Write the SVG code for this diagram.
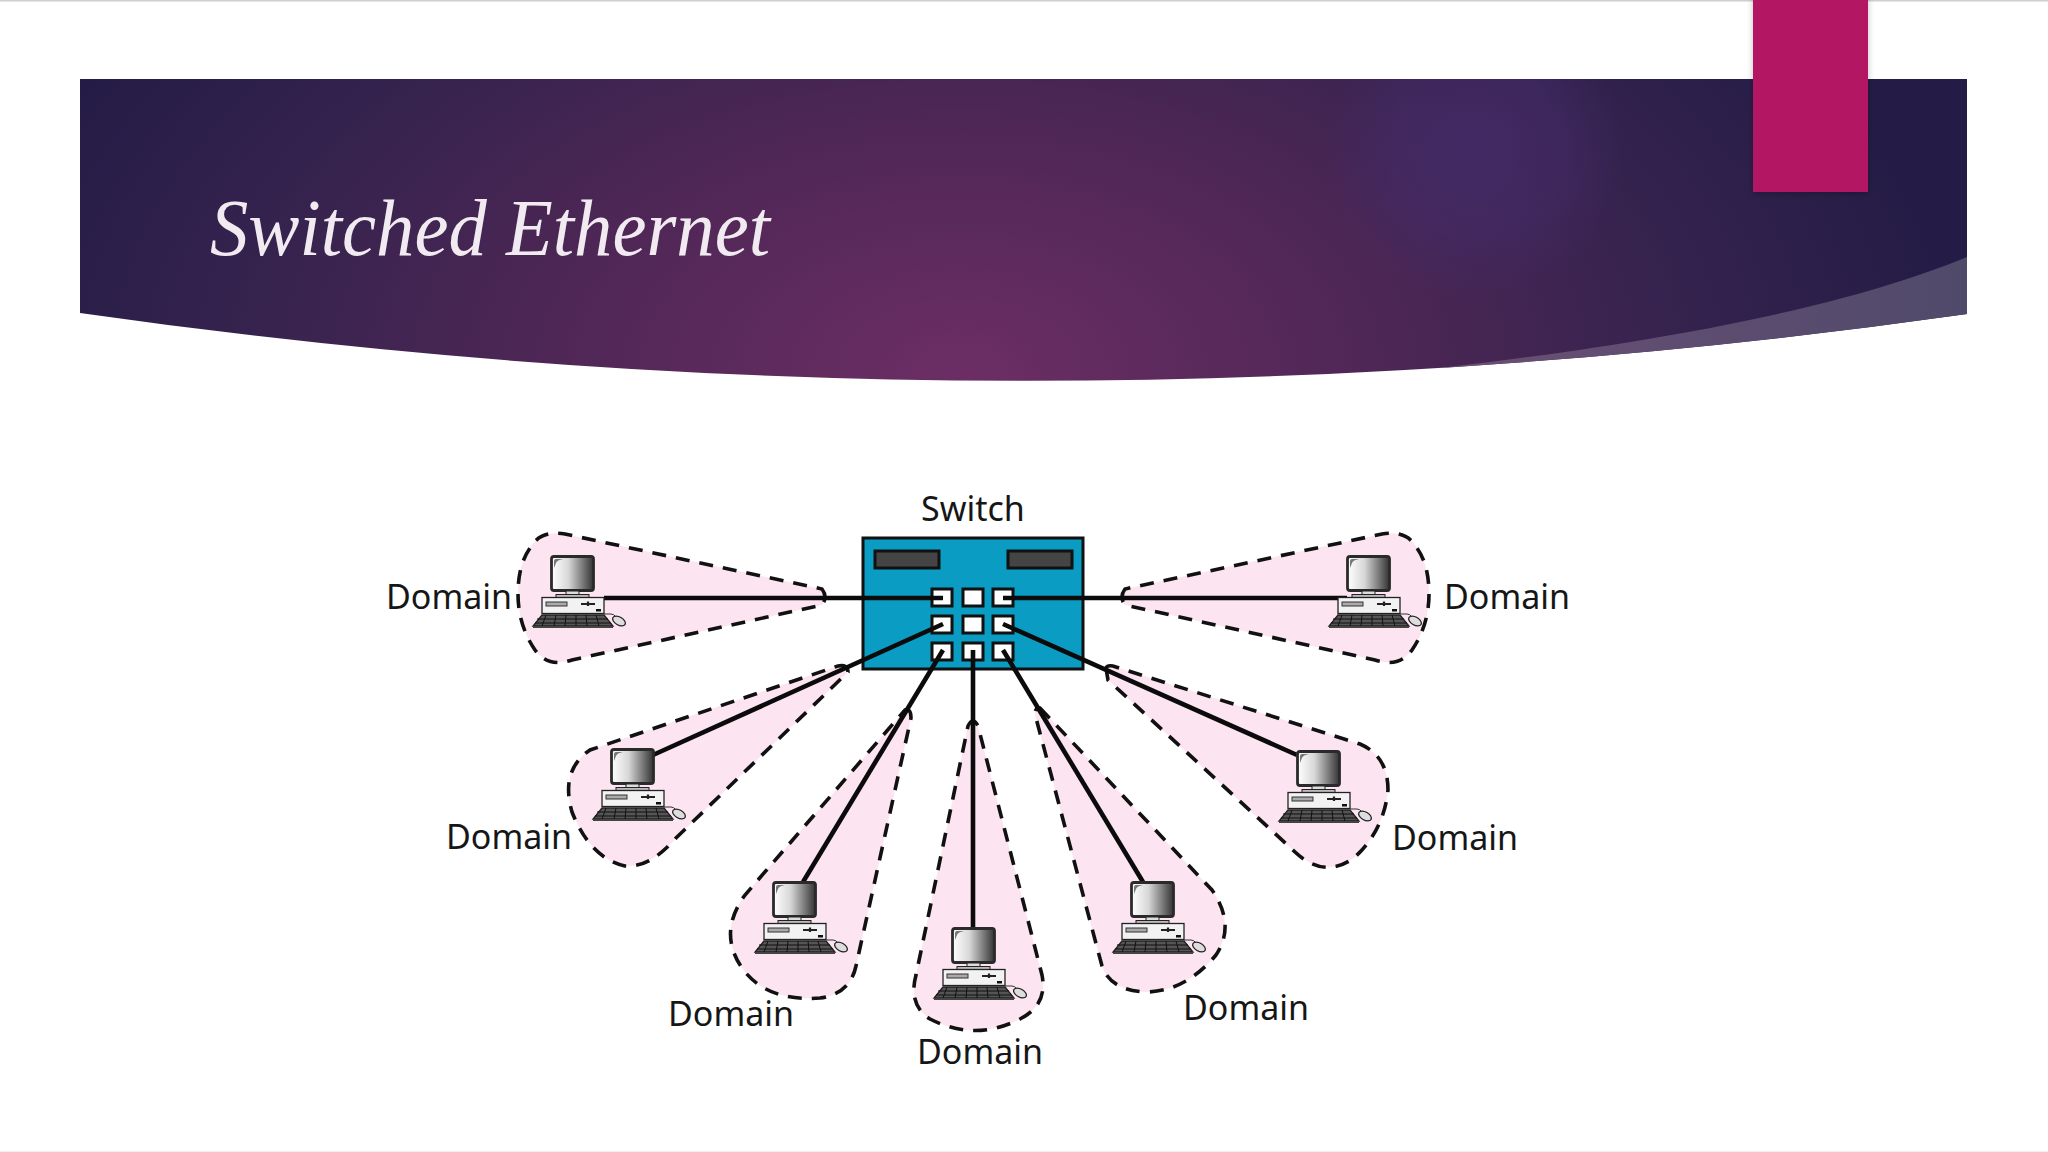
<svg xmlns="http://www.w3.org/2000/svg" xmlns:xlink="http://www.w3.org/1999/xlink" width="2048" height="1152" viewBox="0 0 2048 1152">
<style>
.lbl{font-family:"Noto Sans","Open Sans",sans-serif;font-size:34px;fill:#161616}
.dom{fill:#fce4f1;stroke:#111;stroke-width:3.600;stroke-dasharray:14 10}
.wire{stroke:#0b0b0b;stroke-width:4.600;fill:none;stroke-linecap:butt}
.port{fill:#fff;stroke:#111;stroke-width:3}
.panel{fill:#444;stroke:#111;stroke-width:3}
</style>
<defs>
<radialGradient id="bandG" gradientUnits="userSpaceOnUse" cx="960" cy="370" r="1000" gradientTransform="translate(960 370) scale(1 .6) translate(-960 -370)">
<stop offset="0" stop-color="#6c2e64"/><stop offset=".4" stop-color="#4f2756"/><stop offset=".75" stop-color="#33224d"/><stop offset="1" stop-color="#241c46"/>
</radialGradient>
<radialGradient id="glow" gradientUnits="userSpaceOnUse" cx="1475" cy="150" r="150">
<stop offset="0" stop-color="#432a66" stop-opacity=".9"/><stop offset=".6" stop-color="#432a66" stop-opacity=".55"/><stop offset="1" stop-color="#432a66" stop-opacity="0"/>
</radialGradient>
<linearGradient id="hi" x1="0" x2="1" y1="0" y2="0"><stop offset="0" stop-color="#6c5076"/><stop offset="1" stop-color="#504a6a"/></linearGradient>
<linearGradient id="scr" x1="0" x2="1" y1="0" y2="0"><stop offset="0" stop-color="#fff"/><stop offset=".4" stop-color="#d8d8d8"/><stop offset="1" stop-color="#333"/></linearGradient>
<clipPath id="bandC"><path d="M80 79H1967V314Q1023 448 80 313Z"/></clipPath>
<filter id="sh" x="-20%" y="-20%" width="140%" height="140%"><feDropShadow dx="0" dy="2" stdDeviation="3" flood-color="#000" flood-opacity=".25"/></filter>
<g id="pc">
<rect x="0.500" y="0.500" width="42" height="34" rx="2.500" fill="url(#scr)" stroke="#2a2a2a" stroke-width="2.800"/>
<path d="M3 12V5Q3 3 5 3H12Q6 4 5 7Z" fill="#777"/>
<rect x="15" y="35" width="13" height="4" fill="#ddd" stroke="#222" stroke-width="1"/>
<rect x="5" y="38.500" width="33" height="3" fill="#bbb" stroke="#222" stroke-width="1"/>
<rect x="-9" y="41.500" width="62" height="16" fill="#f2f2f2" stroke="#222" stroke-width="1.300"/>
<rect x="-5" y="46" width="21" height="4" fill="#aaa" stroke="#333" stroke-width="1"/>
<path d="M30 48H44M37 45.500V50" stroke="#222" stroke-width="2.200"/>
<rect x="45" y="53" width="5" height="2.500" fill="#111"/>
<path d="M-9 59H53L62 70H-18Z" fill="#555" stroke="#222" stroke-width="1.300"/>
<path d="M-14 63H57M-16 67H60M-5 59L-9 70M5 59L3 70M15 59L14 70M25 59V70M35 59L36 70M45 59L48 70" stroke="#111" stroke-width="1"/>
<rect x="-18" y="70" width="80" height="2" fill="#444"/>
<path d="M53 58H60Q63 58 65 61" fill="none" stroke="#333" stroke-width="1"/>
<ellipse cx="68" cy="65" rx="7" ry="4" transform="rotate(30 68 65)" fill="#ddd" stroke="#222" stroke-width="1.300"/>
</g>
</defs>
<rect width="2048" height="1152" fill="#fff"/>
<rect width="2048" height="1.500" fill="#cfcfcf"/>
<rect y="1151" width="2048" height="1" fill="#eee"/>
<g id="banner">
<path d="M80 79H1967V314Q1023 448 80 313Z" fill="url(#bandG)"/>
<g clip-path="url(#bandC)">
<circle cx="1475" cy="150" r="150" fill="url(#glow)"/>
<path d="M1967 257C1850 305 1680 340 1440 368L1400 400H1967Z" fill="url(#hi)"/>
</g>
<rect x="1753" y="-5" width="115" height="197" fill="#b31464" filter="url(#sh)"/>
<text x="210" y="255" font-family="'Liberation Serif',serif" font-style="italic" font-size="80" fill="#f1ebf1" textLength="560" lengthAdjust="spacingAndGlyphs">Switched Ethernet</text>
</g>
<g id="domains">
<path id="dom-1" class="dom" d="M822 589Q828 597 822 605L572 660Q548 668 535 650Q518 625 518 594Q518 565 530 548Q540 530 565 534Z"/>
<path id="dom-2" class="dom" transform="translate(1947 0) scale(-1 1)" d="M822 589Q828 597 822 605L572 660Q548 668 535 650Q518 625 518 594Q518 565 530 548Q540 530 565 534Z"/>
<path id="dom-3" class="dom" d="M838 666Q848 664 848 672L676 838Q650 868 625 866Q590 858 572 812Q560 770 590 750Z"/>
<path id="dom-4" class="dom" d="M905 710Q911 708 911 718L856 966Q850 994 820 998Q770 1002 745 972Q716 935 745 895Z"/>
<path id="dom-5" class="dom" d="M968 726Q973 716 978 726L1042 975Q1048 1005 1020 1019Q975 1042 930 1019Q908 1005 916 975Z"/>
<path id="dom-6" class="dom" d="M1040 708L1212 890Q1236 925 1216 955Q1185 992 1145 992Q1110 990 1102 966L1036 718Q1033 708 1040 708Z"/>
<path id="dom-7" class="dom" d="M1106 668Q1108 664 1116 667L1360 744Q1388 756 1388 790Q1384 830 1355 857Q1325 880 1295 852L1108 680Z"/>
</g>
<g id="switch">
<rect x="863" y="538" width="220" height="131" fill="#0b9cc3" stroke="#111" stroke-width="3"/>
<rect class="panel" x="875" y="551" width="64" height="17"/>
<rect class="panel" x="1008" y="551" width="64" height="17"/>
<rect class="port" x="932" y="589" width="20" height="17"/><rect class="port" x="963" y="589" width="20" height="17"/><rect class="port" x="993" y="589" width="20" height="17"/>
<rect class="port" x="932" y="616" width="20" height="17"/><rect class="port" x="963" y="616" width="20" height="17"/><rect class="port" x="993" y="616" width="20" height="17"/>
<rect class="port" x="932" y="643" width="20" height="17"/><rect class="port" x="963" y="643" width="20" height="17"/><rect class="port" x="993" y="643" width="20" height="17"/>
<text class="lbl" x="921" y="521">Switch</text>
</g>
<g id="connectors">
<path class="wire" d="M943 598H604"/>
<path class="wire" d="M1003 598H1347"/>
<path class="wire" d="M943 624L653 755"/>
<path class="wire" d="M943 650L803 882"/>
<path class="wire" d="M973 650V928"/>
<path class="wire" d="M1003 650L1143 882"/>
<path class="wire" d="M1003 624L1297 755"/>
</g>
<g id="host-1"><use xlink:href="#pc" href="#pc" x="551" y="556"/><text class="lbl" x="386" y="609">Domain</text></g>
<g id="host-2"><use xlink:href="#pc" href="#pc" x="1347" y="556"/><text class="lbl" x="1444" y="609">Domain</text></g>
<g id="host-3"><use xlink:href="#pc" href="#pc" x="611" y="749"/><text class="lbl" x="446" y="849">Domain</text></g>
<g id="host-4"><use xlink:href="#pc" href="#pc" x="773" y="882"/><text class="lbl" x="668" y="1026">Domain</text></g>
<g id="host-5"><use xlink:href="#pc" href="#pc" x="952" y="928"/><text class="lbl" x="917" y="1064">Domain</text></g>
<g id="host-6"><use xlink:href="#pc" href="#pc" x="1131" y="882"/><text class="lbl" x="1183" y="1020">Domain</text></g>
<g id="host-7"><use xlink:href="#pc" href="#pc" x="1297" y="751"/><text class="lbl" x="1392" y="850">Domain</text></g>
</svg>
